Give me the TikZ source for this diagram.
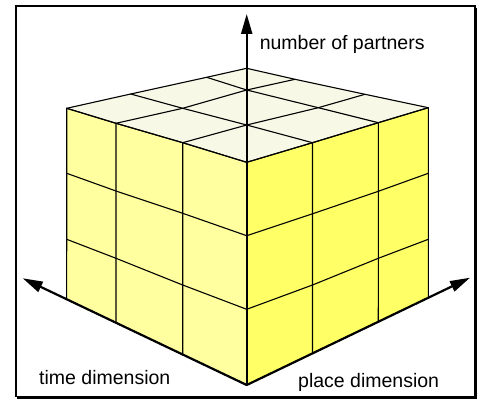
\documentclass[tikz,border=0pt]{standalone}
\usepackage{fontspec}
\setmainfont{Liberation Sans}
\usetikzlibrary{arrows.meta,calc}
\definecolor{leftface}{RGB}{255,255,160}
\definecolor{rightface}{RGB}{255,255,102}
\definecolor{topface}{RGB}{248,248,230}
\begin{document}
\begin{tikzpicture}[x=1pt,y=-1pt,
  gridline/.style={line width=1.1pt, line join=round, line cap=round},
  axisline/.style={line width=2.2pt, -{Triangle[length=20pt,width=11pt]}},
  lbl/.style={anchor=base west, inner sep=0pt, font=\fontsize{19.5}{23}\selectfont}]
\useasboundingbox (0,0) rectangle (478,401);
% frame with shadow
\draw[line width=1.8pt] (15.8,6.2) rectangle (474.6,396.4);
\draw[line width=1.8pt] (476.2,7.6) -- (476.2,398.0) -- (17.2,398.0);
% axes endpoints
\coordinate (O) at (246.7,385);
\coordinate (TL) at (22.7,278.3);
\coordinate (TR) at (470,277.7);
\coordinate (TU) at (246.7,14);
% left face
\coordinate (L00) at (66.7,108.3);
\coordinate (L01) at (66.7,173.3);
\coordinate (L02) at (66.7,239.3);
\coordinate (L03) at ($(O)!0.8036!(TL)$);
\coordinate (L10) at (116,123.3);
\coordinate (L11) at (116,191);
\coordinate (L12) at (116,258.3);
\coordinate (L13) at ($(O)!0.5833!(TL)$);
\coordinate (L20) at (182.7,142.7);
\coordinate (L21) at (182.7,213.3);
\coordinate (L22) at (182.7,285);
\coordinate (L23) at ($(O)!0.2857!(TL)$);
\coordinate (L30) at (246.7,162.3);
\coordinate (L31) at (246.7,235.7);
\coordinate (L32) at (246.7,309.3);
\coordinate (L33) at (O);
% right face
\coordinate (R00) at (L30);
\coordinate (R01) at (L31);
\coordinate (R02) at (L32);
\coordinate (R03) at (O);
\coordinate (R10) at (312.5,142.7);
\coordinate (R11) at (312.5,213.8);
\coordinate (R12) at (312.5,285);
\coordinate (R13) at ($(O)!0.2947!(TR)$);
\coordinate (R20) at (378.3,122.7);
\coordinate (R21) at (378.3,191.3);
\coordinate (R22) at (378.3,258.3);
\coordinate (R23) at ($(O)!0.5893!(TR)$);
\coordinate (R30) at (428.3,107.7);
\coordinate (R31) at (428.3,173.3);
\coordinate (R32) at (428.3,239.3);
\coordinate (R33) at ($(O)!0.8133!(TR)$);
% top face
\coordinate (T00) at (246.7,68.3);
\coordinate (T10) at (206.7,77.3);
\coordinate (T20) at (130.7,94);
\coordinate (T30) at (L00);
\coordinate (T01) at (295,79.3);
\coordinate (T11) at (246.7,90);
\coordinate (T21) at (182.7,108.3);
\coordinate (T31) at (L10);
\coordinate (T02) at (365,94.3);
\coordinate (T12) at (318.3,107.7);
\coordinate (T22) at (246.7,125);
\coordinate (T32) at (L20);
\coordinate (T03) at (R30);
\coordinate (T13) at (R20);
\coordinate (T23) at (R10);
\coordinate (T33) at (L30);
% fills
\fill[leftface] (L00) -- (L30) -- (L33) -- (L03) -- cycle;
\fill[rightface] (R00) -- (R30) -- (R33) -- (R03) -- cycle;
\fill[topface] (T00) -- (T03) -- (T33) -- (T30) -- cycle;
% grid lines
\foreach \c in {0,1,2,3}{
  \draw[gridline] (L\c0) -- (L\c1) -- (L\c2) -- (L\c3);
  \draw[gridline] (L0\c) -- (L1\c) -- (L2\c) -- (L3\c);
  \draw[gridline] (R\c0) -- (R\c1) -- (R\c2) -- (R\c3);
  \draw[gridline] (R0\c) -- (R1\c) -- (R2\c) -- (R3\c);
  \draw[gridline] (T\c0) -- (T\c1) -- (T\c2) -- (T\c3);
  \draw[gridline] (T0\c) -- (T1\c) -- (T2\c) -- (T3\c);
}
% axes
\draw[axisline] (O) -- (TU);
\draw[axisline] (O) -- (TL);
\draw[axisline] (O) -- (TR);
% labels
\node[lbl] (nump) at (259.6,49.2) {number of partners};
\node[lbl] (timed) at (39,384) {time dimension};
\node[lbl] (placed) at (298,387.5) {place dimension};
\end{tikzpicture}
\end{document}
